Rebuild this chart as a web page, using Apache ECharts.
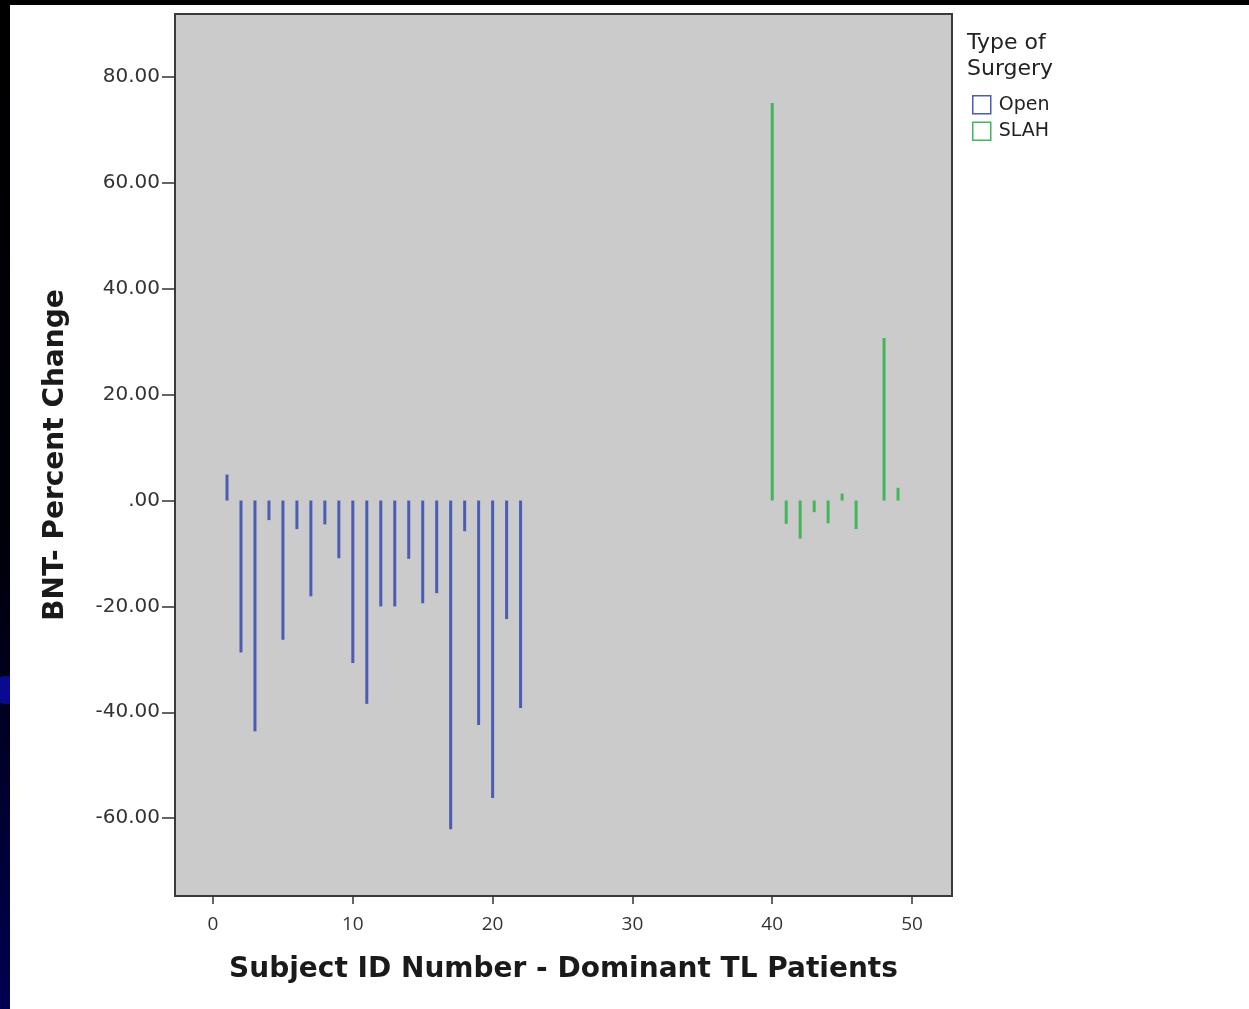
<!DOCTYPE html>
<html>
<head>
<meta charset="utf-8">
<script src="https://cdn.jsdelivr.net/npm/echarts@6/dist/echarts.min.js"></script>
<style>html,body{margin:0;padding:0;background:#fff;}#c{width:1249px;height:1009px;}</style>
</head>
<body>
<div id="c"></div>
<script>
// Data
var openIds = [1, 2, 3, 4, 5, 6, 7, 8, 9, 10, 11, 12, 13, 14, 15, 16, 17, 18, 19, 20, 21, 22];
var openValues = [4.9, -28.7, -43.6, -3.7, -26.3, -5.4, -18.1, -4.5, -10.9, -30.7, -38.4, -20.0, -20.0, -11.0, -19.4, -17.5, -62.1, -5.8, -42.4, -56.2, -22.4, -39.2];
var slahIds = [40, 41, 42, 43, 44, 45, 46, 48, 49];
var slahValues = [75.1, -4.4, -7.2, -2.2, -4.3, 1.3, -5.4, 30.7, 2.4];
var yTicks = [-60, -40, -20, 0, 20, 40, 60, 80];
var xTicks = [0, 10, 20, 30, 40, 50];
var seriesNames = ['Open', 'SLAH'];
var legendTitle = 'Type of\nSurgery';
var xTitle = 'Subject ID Number - Dominant TL Patients';
var yTitle = 'BNT- Percent Change';

function pairs(ids, vals) { return ids.map(function (id, i) { return [id, vals[i]]; }); }

var chart = echarts.init(document.getElementById('c'), null, { renderer: 'canvas' });
var blue = '#4a5cb4', green = '#46b45b';
chart.setOption({
  backgroundColor: '#ffffff',
  animation: false,
  title: {
    text: legendTitle, left: 962, top: 25,
    textStyle: { fontFamily: 'DejaVu Sans', fontSize: 22, fontWeight: 'normal', color: '#222', lineHeight: 26 }
  },
  legend: {
    orient: 'vertical', left: 972, top: 95, padding: 0, itemWidth: 18, itemHeight: 18, itemGap: 7,
    icon: 'rect',
    textStyle: { fontFamily: 'DejaVu Sans', fontSize: 19, color: '#222', padding: [0, 0, 0, 3] },
    data: [
      { name: seriesNames[0], itemStyle: { color: 'transparent', borderColor: blue, borderWidth: 1.5 } },
      { name: seriesNames[1], itemStyle: { color: 'transparent', borderColor: green, borderWidth: 1.5 } }
    ]
  },
  grid: {
    left: 175, top: 14, width: 777, height: 882, show: true,
    backgroundColor: '#cbcbcb', borderColor: '#3a3a3a', borderWidth: 2
  },
  xAxis: {
    type: 'value', min: -2.72, max: 52.86,
    name: xTitle, nameLocation: 'middle', nameGap: 60,
    nameTextStyle: { fontFamily: 'DejaVu Sans', fontWeight: 'bold', fontSize: 28, color: '#1a1a1a' },
    axisLine: { show: false, onZero: false },
    splitLine: { show: false },
    axisTick: { show: true, length: 8, lineStyle: { color: '#333', width: 1.5 }, customValues: xTicks },
    axisLabel: { margin: 19, fontFamily: 'Open Sans', fontSize: 19, color: '#333', customValues: xTicks }
  },
  yAxis: {
    type: 'value', min: -74.7, max: 91.9,
    name: yTitle, nameLocation: 'middle', nameGap: 105, nameRotate: 90,
    nameTextStyle: { fontFamily: 'DejaVu Sans', fontWeight: 'bold', fontSize: 28, color: '#1a1a1a' },
    axisLine: { show: false, onZero: false },
    splitLine: { show: false },
    axisTick: { show: true, length: 13, lineStyle: { color: '#333', width: 1.5 }, customValues: yTicks },
    axisLabel: {
      margin: 15, fontFamily: 'DejaVu Sans', fontSize: 20, color: '#333', customValues: yTicks,
      formatter: function (v) { return v === 0 ? '.00' : v.toFixed(2); }
    }
  },
  series: [
    { name: seriesNames[0], type: 'bar', barWidth: 3, data: pairs(openIds, openValues), itemStyle: { color: blue } },
    { name: seriesNames[1], type: 'bar', barWidth: 3, barGap: '-100%', data: pairs(slahIds, slahValues), itemStyle: { color: green } }
  ],
  graphic: [
    { type: 'rect', shape: { x: 0, y: 0, width: 1249, height: 5 }, style: { fill: '#000' }, silent: true },
    { type: 'rect', shape: { x: 0, y: 0, width: 10, height: 1009 }, style: {
        fill: { type: 'linear', x: 0, y: 0, x2: 0, y2: 1, colorStops: [
          { offset: 0, color: '#000000' }, { offset: 0.55, color: '#00000a' }, { offset: 1, color: '#000050' } ] }
      }, silent: true },
    { type: 'circle', shape: { cx: 6, cy: 690, r: 14 }, style: { fill: '#0a0a90' }, silent: true, z: 10,
      clipPath: { type: 'rect', shape: { x: 0, y: 0, width: 10, height: 1009 } } }
  ]
});
</script>
</body>
</html>
